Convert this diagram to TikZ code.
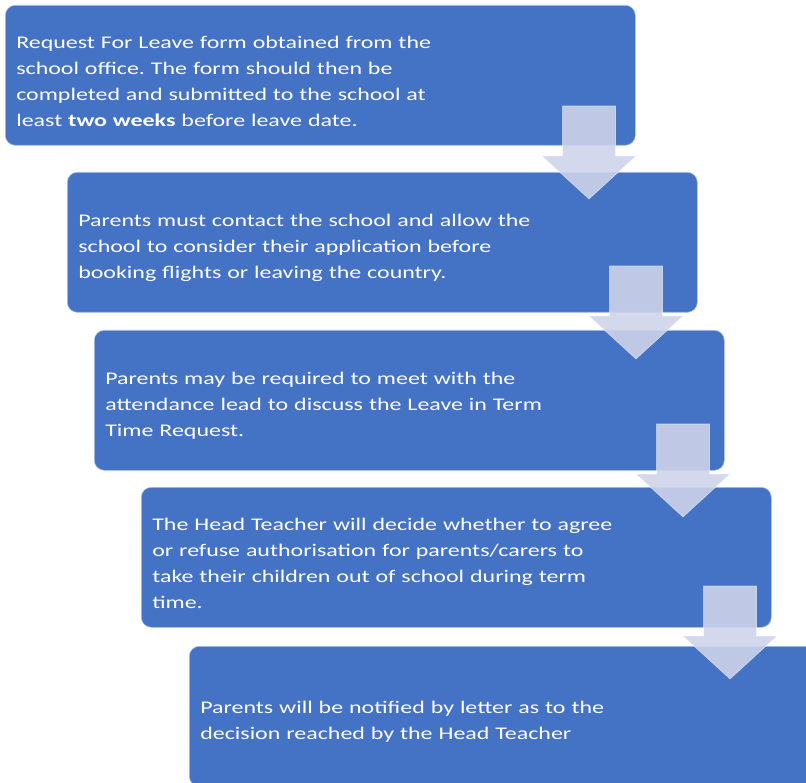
\documentclass[tikz,border=0pt]{standalone}
\usepackage{fontspec}
\setmainfont{Carlito}[FakeStretch=1.345]
\frenchspacing
\definecolor{boxblue}{RGB}{68,114,196}
\definecolor{arrowgrey}{RGB}{207,211,234}
\tikzset{
  stepbox/.style={fill=boxblue, draw=white!55!boxblue, line width=0.6pt, rounded corners=10pt,
    anchor=north west, minimum width=630pt, minimum height=140pt, text width=608pt,
    text height=24pt, inner xsep=11pt, align=left, text=white,
    font=\fontsize{17.8}{26}\selectfont},
  blockarrow/.style={fill=arrowgrey, fill opacity=0.89, draw=white, draw opacity=0.5, line width=0.6pt}
}

\begin{document}
\begin{tikzpicture}[x=1pt,y=-1pt]
\useasboundingbox (0,0) rectangle (806,783);
\clip (0,0) rectangle (806,783);
%draw the five steps, each shifted to the right
\node[stepbox] (request) at (5,5) {Request For Leave form obtained from the\\
  school office. The form should then be\\
  completed and submitted to the school at\\
  least \textbf{two weeks} before leave date.};
\node[stepbox] (contact) at (67,172) {Parents must contact the school and allow the\\
  school to consider their application before\\
  booking flights or leaving the country.};
\node[stepbox] (meet) at (94,330) {Parents may be required to meet with the\\
  attendance lead to discuss the Leave in Term\\
  Time Request.};
\node[stepbox] (decide) at (141,487) {The Head Teacher will decide whether to agree\\
  or refuse authorisation for parents/carers to\\
  take their children out of school during term\\
  time.};
\node[stepbox] (notify) at (189,646) {Parents will be notified by letter as to the\\
  decision reached by the Head Teacher};
% draw block arrows over the corners
\foreach \x/\y in {589/106, 636/266, 683/424, 730/586}
  \draw[blockarrow] (\x-26.5,\y) -- ++(53,0) -- ++(0,50) -- ++(20.5,0)
    -- (\x,\y+93) -- (\x-47,\y+50) -- ++(20.5,0) -- cycle;
\end{tikzpicture}
\end{document}
